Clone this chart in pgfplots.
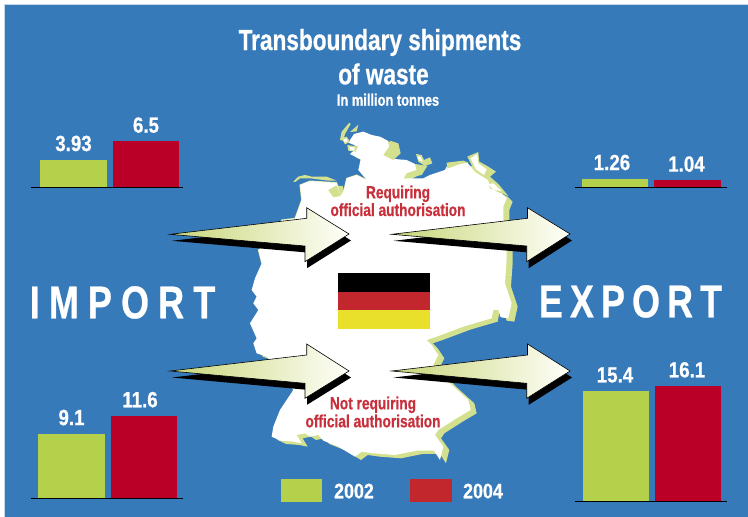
\documentclass[border=0pt]{standalone}
\usepackage{pgfplots}
\usepackage{fontspec}
\pgfplotsset{compat=1.18}
\setmainfont{Liberation Sans}
\newfontfamily\cnd[FakeStretch=0.78,FakeBold=0.6]{Liberation Sans}
\newfontfamily\cndn[FakeStretch=0.85,FakeBold=0.6]{Liberation Sans}
\newcommand\Fn[1]{\fontsize{#1}{#1}\selectfont\cnd\bfseries}
\newcommand\Fd[1]{\fontsize{#1}{#1}\selectfont\cndn\bfseries}
\definecolor{bg}{HTML}{377ABA}
\definecolor{gbar}{HTML}{B5D04A}
\definecolor{rbar}{HTML}{BB0027}
\definecolor{rleg}{HTML}{C1272D}
\definecolor{ylw}{HTML}{E8E02B}
\definecolor{pale}{HTML}{D3E08E}
\definecolor{rtext}{HTML}{C8303C}
\definecolor{atail}{HTML}{C8D678}
\definecolor{ahead}{HTML}{FFFFFA}
\pgfplotsset{barpanel/.style={
  scale only axis, width=152pt, height=121.38pt,
  xmin=0, xmax=152, ymin=0, ymax=17,
  axis x line=bottom, axis y line=none,
  x axis line style={-, line width=1pt, black},
  xtick=\empty, ytick=\empty, clip=false, axis on top,
  ybar, bar shift=0pt, bar width=66.5pt,
  point meta=explicit symbolic,
  nodes near coords={\Fd{22}\pgfplotspointmeta},
  every node near coord/.append style={anchor=base, yshift=8.6pt, inner sep=0pt, text=white},
}}
\newcommand\Arrow[7]{% tail, shafttop, headtop, tip, headbot, shaftbot
  \fill[black,shift={(2pt,-6.5pt)}] #1 -- #2 -- #3 -- #4 -- #5 -- #6 -- cycle;
  \draw[black,line width=0.6pt,left color=atail,right color=ahead] #1 -- #2 -- #3 -- #4 -- #5 -- #6 -- cycle;
}
\begin{document}
\begin{tikzpicture}[x=1pt,y=-1pt]
\useasboundingbox (0,0) rectangle (748,517);
\fill[white] (0,0) rectangle (748,517);
\fill[bg] (4.5,4.5) rectangle (748,517);
\draw[color=bg!30!white,line width=0.8pt] (4.5,517) -- (4.5,4.5) -- (748,4.5);
% map
\begin{scope}[shift={(230pt,-110pt)},x=0.3333pt,y=-0.3333pt]
\def\mainland{(372,72)--(400,65)--(425,75)--(450,80)--(473,92)--(478,110)--(468,132)--(480,145)--(505,148)--(530,150)--(555,162)--(560,180)--(530,195)--(522,205)--(580,205)--(600,195)--(645,180)--(650,170)--(690,160)--(712,158)--(735,185)--(775,210)--(780,235)--(815,250)--(830,265)--(820,290)--(820,330)--(830,370)--(830,450)--(825,520)--(845,580)--(835,625)--(812,622)--(805,600)--(790,600)--(785,625)--(750,635)--(700,650)--(620,680)--(590,690)--(605,705)--(625,735)--(610,765)--(660,820)--(715,870)--(722,900)--(680,925)--(625,960)--(615,975)--(640,1010)--(630,1050)--(612,1022)--(560,1022)--(495,1035)--(430,1030)--(395,1025)--(375,1040)--(325,1010)--(280,992)--(265,975)--(240,980)--(225,970)--(200,975)--(215,1000)--(190,995)--(150,992)--(125,980)--(130,950)--(150,900)--(190,840)--(110,740)--(80,730)--(70,700)--(80,685)--(60,640)--(85,600)--(70,580)--(80,560)--(65,540)--(75,505)--(95,460)--(85,420)--(130,390)--(155,330)--(195,325)--(215,270)--(210,225)--(240,213)--(320,218)--(332,258)--(342,240)--(350,205)--(380,195)--(410,210)--(385,180)--(392,148)--(360,132)--(385,110)--(355,98)--cycle}
\fill[pale,shift={(18pt*0.3333,-10pt*0.3333)}] \mainland;
\draw[pale,line width=1pt] (95,460)--(85,420)--(130,390)--(155,330)--(195,325)--(215,270)--(210,225)--(240,213)--(320,218)--(332,258)--(342,240)--(350,205)--(380,195)--(410,210);
\fill[white] \mainland;
\fill[pale] (480,92)--(505,100)--(512,130)--(490,150)--(460,135)--(478,110)--cycle;
\fill[pale] (555,162)--(592,168)--(575,195)--(522,205)--(530,190)--(560,180)--cycle;
\fill[pale] (558,132)--(575,135)--(582,150)--(600,142)--(607,160)--(585,168)--(565,155)--cycle;
\fill[white] (562,140)--(572,140)--(578,155)--(568,152)--cycle;
\fill[pale] (295,240)--(320,226)--(332,258)--(310,262)--cycle;
\fill[pale] (330,90)--(335,65)--(358,38)--(362,42)--(345,72)--(340,92)--cycle;
\fill[pale] (360,66)--(385,44)--(380,64)--cycle;
\fill[pale] (335,85)--(350,80)--(360,95)--(345,103)--cycle;
\fill[white] (340,88)--(350,85)--(352,95)--(345,98)--cycle;
\fill[pale] (352,105)--(382,110)--(378,125)--(355,122)--cycle;
\fill[white] (358,110)--(375,113)--(372,122)--(360,120)--cycle;
\fill[pale] (190,215)--(205,200)--(225,195)--(245,200)--(290,200)--(320,212)--(295,212)--(240,205)--(210,205)--(196,216)--cycle;
\fill[pale] (712,140)--(745,126)--(748,155)--(775,170)--(798,185)--(780,200)--(805,222)--(835,258)--(815,250)--(780,235)--(775,210)--(735,185)--cycle;
\fill[white] (722,145)--(742,132)--(745,160)--(770,178)--(762,195)--(738,178)--cycle;
\fill[white] (775,222)--(790,220)--(815,243)--(790,240)--cycle;
\fill[pale] (650,158)--(700,152)--(715,158)--(690,162)--(652,176)--cycle;
\end{scope}
% flag
\fill[black] (338,273.3) rectangle (430,291.7);
\fill[rleg] (338,291.7) rectangle (430,310);
\fill[ylw] (338,310) rectangle (430,329);
% arrows
\Arrow{(170,234.3)}{(306.7,218.3)}{(306.7,207.7)}{(349,234)}{(305,261.7)}{(305,246)}{}
\Arrow{(170,371)}{(306.7,355)}{(306.7,344)}{(349,371)}{(305,398.3)}{(305,383.3)}{}
\Arrow{(391.7,234.3)}{(527.5,218.3)}{(527.5,207.7)}{(570,234)}{(526.7,261.7)}{(526.7,246)}{}
\Arrow{(391.7,371)}{(527.5,355)}{(527.5,344)}{(570,371)}{(526.7,398.3)}{(526.7,383.3)}{}
% titles
\tikzset{every node/.style={inner sep=0pt,anchor=base}}
\node[text=white] at (380,50) {\Fn{29}Transboundary shipments};
\node[text=white] at (383.5,84.3) {\Fn{29}of waste};
\node[text=white] at (388,105.7) {\Fn{16.5}In million tonnes};
\node[text=rtext] at (398,198.3) {\Fn{17.6}Requiring};
\node[text=rtext] at (398,216) {\Fn{17.6}official authorisation};
\node[text=rtext] at (373,409.3) {\Fn{17.6}Not requiring};
\node[text=rtext] at (373,427.3) {\Fn{17.6}official authorisation};
\node[text=white] at (122.5,318.3) {\Fn{46}\addfontfeature{LetterSpace=20}IMPORT};
\node[text=white] at (630.5,317.3) {\Fn{46}\addfontfeature{LetterSpace=15.5}EXPORT};
% legend
\fill[gbar] (281,479.3) rectangle (322,501.7);
\fill[rleg] (410.3,479.3) rectangle (451.7,501.7);
\node[text=white] at (354,498.3) {\Fd{21}2002};
\node[text=white] at (483,498.3) {\Fd{21}2004};
% bar panels
\begin{axis}[barpanel, at={(31pt,-187.7pt)}, anchor=south west]
\addplot[fill=gbar,draw=none] coordinates {(42.5,3.93)[3.93]};
\addplot[fill=rbar,draw=none] coordinates {(115,6.5)[6.5]};
\end{axis}
\begin{axis}[barpanel, at={(31pt,-498.7pt)}, anchor=south west]
\addplot[fill=gbar,draw=none] coordinates {(40.5,9.1)[9.1]};
\addplot[fill=rbar,draw=none,every node near coord/.append style={xshift=-4pt}] coordinates {(113,11.6)[11.6]};
\end{axis}
\begin{axis}[barpanel, at={(575pt,-187.7pt)}, anchor=south west]
\addplot[fill=gbar,draw=none,every node near coord/.append style={xshift=-3pt}] coordinates {(40,1.26)[1.26]};
\addplot[fill=rbar,draw=none,every node near coord/.append style={xshift=-1pt}] coordinates {(112.5,1.04)[1.04]};
\end{axis}
\begin{axis}[barpanel, at={(575pt,-501pt)}, anchor=south west]
\addplot[fill=gbar,draw=none,every node near coord/.append style={xshift=-1pt}] coordinates {(41,15.4)[15.4]};
\addplot[fill=rbar,draw=none,every node near coord/.append style={xshift=-1pt}] coordinates {(113,16.1)[16.1]};
\end{axis}
\end{tikzpicture}
\end{document}
